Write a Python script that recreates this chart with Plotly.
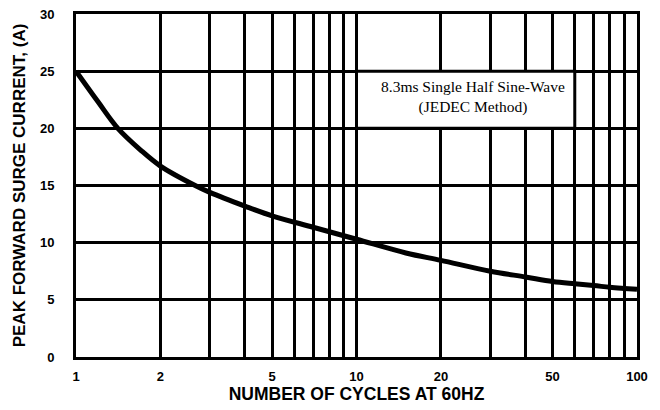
import plotly.graph_objects as go

# Curve data
cycles = [1, 1.2, 1.41, 1.7, 2, 2.66, 3, 4, 5, 7, 10, 15, 20, 30, 40, 50, 60, 70, 80, 90, 100]
current = [25, 22.3, 20, 18.1, 16.7, 15, 14.4, 13.2, 12.35, 11.35, 10.3, 9.1, 8.45, 7.5, 7.0, 6.6, 6.4, 6.25, 6.1, 6.0, 5.92]

x_grid = [1, 2, 3, 4, 5, 6, 7, 8, 9, 10, 20, 30, 40, 50, 60, 70, 80, 90, 100]
x_labeled = [1, 2, 5, 10, 20, 50, 100]
x_text = [str(v) if v in x_labeled else "" for v in x_grid]
y_ticks = [0, 5, 10, 15, 20, 25, 30]

note_lines = ["8.3ms Single Half Sine-Wave", "(JEDEC Method)"]
box_x = [10, 60, 60, 10, 10]
box_y = [20, 20, 25, 25, 20]

bold_font = "Liberation Sans Narrow, Arial Narrow, Liberation Sans, Arial"

fig = go.Figure()
# note box (white, drawn over the grid)
fig.add_trace(go.Scatter(
    x=box_x, y=box_y, mode="lines", fill="toself", fillcolor="white",
    line=dict(color="black", width=3), hoverinfo="skip", showlegend=False,
))
fig.add_trace(go.Scatter(
    x=cycles, y=current, mode="lines",
    line=dict(color="black", width=5, shape="spline"),
    hoverinfo="skip", showlegend=False,
))

fig.add_annotation(xref="paper", yref="y", x=0.708, y=22.75,
                   xanchor="center", yanchor="middle",
                   text="<br>".join(note_lines), showarrow=False,
                   font=dict(family="Liberation Serif, Times New Roman, serif", size=15.5, color="black"),
                   align="center")

fig.update_xaxes(
    type="log", range=[0, 2], automargin=False,
    tickvals=x_grid, ticktext=x_text, ticklabeloverflow="allow",
    showgrid=True, gridcolor="black", gridwidth=3,
    showline=True, linecolor="black", linewidth=3, mirror=True,
    ticks="outside", ticklen=5, tickcolor="rgba(0,0,0,0)",
    tickfont=dict(family=bold_font, size=13, color="black", weight="bold"),
    title=dict(text="<b>NUMBER OF CYCLES AT 60HZ</b>", standoff=0,
               font=dict(family="Liberation Sans, Arial", size=17.5, color="black")),
    zeroline=False,
)
fig.update_yaxes(
    range=[0, 30], tickvals=y_ticks, automargin=False, ticklabeloverflow="allow",
    showgrid=True, gridcolor="black", gridwidth=3,
    showline=True, linecolor="black", linewidth=3, mirror=True,
    ticks="outside", ticklen=16, tickcolor="rgba(0,0,0,0)",
    tickfont=dict(family=bold_font, size=13, color="black", weight="bold"),
    title=dict(text="<b>PEAK FORWARD SURGE CURRENT, (A)</b>", standoff=10,
               font=dict(family="Liberation Sans, Arial", size=17, color="black")),
    zeroline=False,
)

fig.update_layout(
    width=660, height=410,
    margin=dict(l=68, r=31, t=6, b=61),
    plot_bgcolor="white", paper_bgcolor="white",
)

fig.write_html("out.html")
